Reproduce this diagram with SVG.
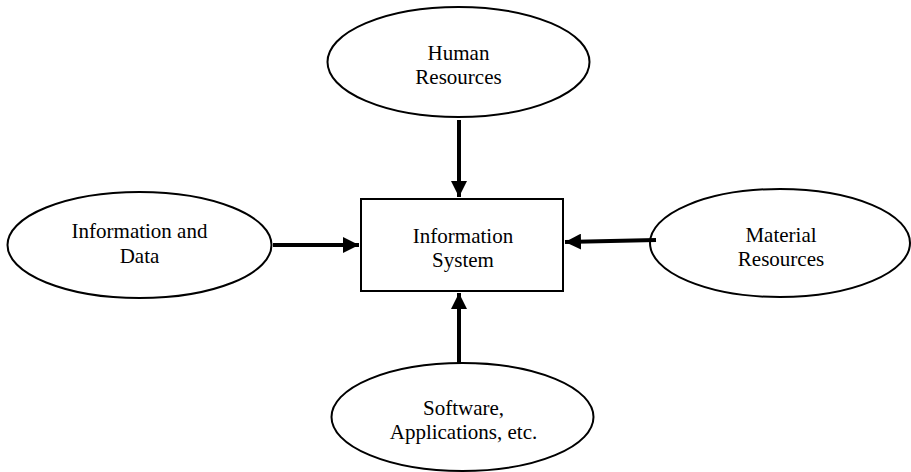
<svg xmlns="http://www.w3.org/2000/svg" width="911" height="472" viewBox="0 0 911 472">
<style>
.n{fill:#fff;stroke:#000;stroke-width:2}
.t{font-family:"Liberation Serif","Times New Roman",serif;font-size:21px;fill:#000;text-anchor:middle}
.c{stroke:#000;stroke-width:4;fill:none}
</style>
<defs>
<marker id="ah" markerWidth="4" markerHeight="4" refX="4" refY="2" orient="auto" markerUnits="strokeWidth">
<path d="M0,0 L4,2 L0,4 Z" fill="#000"/>
</marker>
</defs>
<rect width="911" height="472" fill="#fff"/>
<g id="human">
<ellipse class="n" cx="458.5" cy="62" rx="131" ry="55"/>
<text class="t" x="458.5" y="60">Human</text>
<text class="t" x="458.5" y="84">Resources</text>
</g>
<g id="infodata">
<ellipse class="n" cx="139.5" cy="245" rx="132" ry="53"/>
<text class="t" x="139.5" y="238">Information and</text>
<text class="t" x="139.5" y="263">Data</text>
</g>
<g id="material">
<ellipse class="n" cx="780" cy="243" rx="130" ry="54"/>
<text class="t" x="781" y="242">Material</text>
<text class="t" x="781" y="266">Resources</text>
</g>
<g id="software">
<ellipse class="n" cx="462.5" cy="417" rx="131" ry="54"/>
<text class="t" x="463.5" y="415">Software,</text>
<text class="t" x="463.5" y="439">Applications, etc.</text>
</g>
<g id="system">
<rect class="n" x="361" y="199" width="202" height="92"/>
<text class="t" x="463" y="243">Information</text>
<text class="t" x="463" y="267">System</text>
</g>
<g id="connectors">
<line class="c" x1="459" y1="120" x2="459" y2="197" marker-end="url(#ah)"/>
<line class="c" x1="273" y1="245" x2="359" y2="245" marker-end="url(#ah)"/>
<line class="c" x1="656" y1="240" x2="565" y2="242" marker-end="url(#ah)"/>
<line class="c" x1="459" y1="363" x2="459" y2="293" marker-end="url(#ah)"/>
</g>
</svg>
